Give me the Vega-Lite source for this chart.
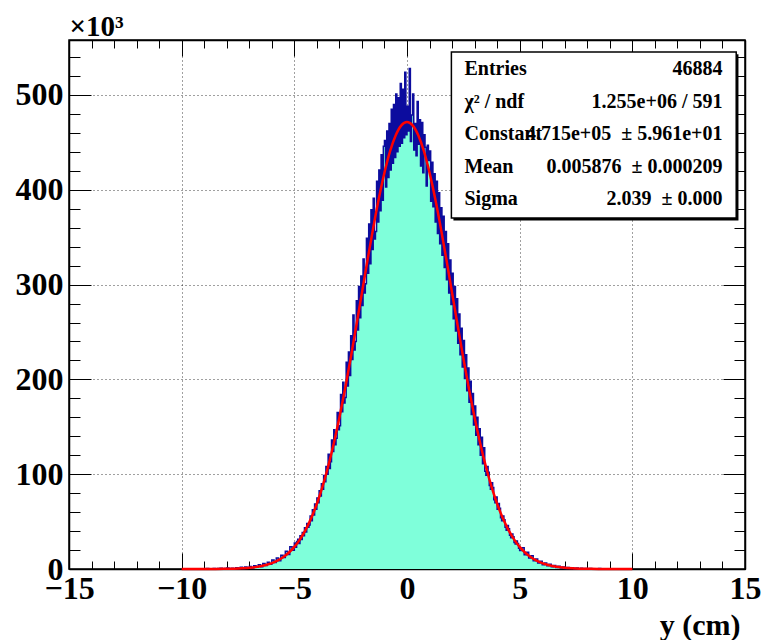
{
  "$schema": "https://vega.github.io/schema/vega-lite/v6.json",
  "width": 676,
  "height": 529,
  "autosize": "none",
  "padding": {"left": 69, "top": 40, "right": 25, "bottom": 71},
  "background": "white",
  "config": {
    "view": {"stroke": "black", "strokeWidth": 1.5},
    "axis": {
      "labelFont": "Liberation Serif",
      "labelFontWeight": "bold",
      "labelFontSize": 32,
      "labelColor": "black",
      "titleFont": "Liberation Serif",
      "titleFontWeight": "bold",
      "titleColor": "black",
      "tickColor": "black",
      "tickWidth": 1,
      "domainColor": "black",
      "domainWidth": 1.5,
      "gridColor": "black",
      "gridDash": [1, 3],
      "gridWidth": 1,
      "gridOpacity": 0.75,
      "zindex": 1,
      "labelOverlap": false,
      "labelFlush": false,
      "labelBound": false
    }
  },
  "datasets": {
    "hist": [
      {"x": -9.0, "n": 0}, {"x": -8.9, "n": 0.5}, {"x": -8.8, "n": 0}, {"x": -8.7, "n": 0}, {"x": -8.6, "n": 0.6},
      {"x": -8.5, "n": 0}, {"x": -8.4, "n": 0.4}, {"x": -8.3, "n": 0.9}, {"x": -8.2, "n": 0}, {"x": -8.1, "n": 0.5},
      {"x": -8.0, "n": 1.0}, {"x": -7.9, "n": 0.3}, {"x": -7.8, "n": 0.9}, {"x": -7.7, "n": 0.2}, {"x": -7.6, "n": 1.4},
      {"x": -7.5, "n": 0.5}, {"x": -7.4, "n": 1.8}, {"x": -7.3, "n": 0.6}, {"x": -7.2, "n": 2.2}, {"x": -7.1, "n": 1.0},
      {"x": -7.0, "n": 2.6}, {"x": -6.9, "n": 1.1}, {"x": -6.8, "n": 3.3}, {"x": -6.7, "n": 2.0}, {"x": -6.6, "n": 4.6},
      {"x": -6.5, "n": 2.4}, {"x": -6.4, "n": 5.9}, {"x": -6.3, "n": 3.6}, {"x": -6.2, "n": 7.2}, {"x": -6.1, "n": 5.1},
      {"x": -6.0, "n": 9.4}, {"x": -5.9, "n": 6.8}, {"x": -5.8, "n": 11.5}, {"x": -5.7, "n": 8.7}, {"x": -5.6, "n": 14.6},
      {"x": -5.5, "n": 12.0}, {"x": -5.4, "n": 18.7}, {"x": -5.3, "n": 15.2}, {"x": -5.2, "n": 23.4}, {"x": -5.1, "n": 19.8},
      {"x": -5.00, "n": 27.5}, {"x": -4.95, "n": 23.0}, {"x": -4.90, "n": 29.0}, {"x": -4.85, "n": 31.5}, {"x": -4.80, "n": 27.0},
      {"x": -4.75, "n": 35.0}, {"x": -4.70, "n": 31.0}, {"x": -4.65, "n": 38.5}, {"x": -4.60, "n": 35.0}, {"x": -4.55, "n": 43.5},
      {"x": -4.50, "n": 39.0}, {"x": -4.45, "n": 48.0}, {"x": -4.40, "n": 44.0}, {"x": -4.35, "n": 46.5}, {"x": -4.30, "n": 56.0},
      {"x": -4.25, "n": 51.0}, {"x": -4.20, "n": 62.5}, {"x": -4.15, "n": 57.0}, {"x": -4.10, "n": 68.5}, {"x": -4.05, "n": 63.0},
      {"x": -4.00, "n": 75.0}, {"x": -3.95, "n": 70.0}, {"x": -3.90, "n": 82.5}, {"x": -3.85, "n": 77.0}, {"x": -3.80, "n": 90.0},
      {"x": -3.75, "n": 84.0}, {"x": -3.70, "n": 98.5}, {"x": -3.65, "n": 92.0}, {"x": -3.60, "n": 108.0}, {"x": -3.55, "n": 100.0},
      {"x": -3.50, "n": 121.0}, {"x": -3.45, "n": 106.0}, {"x": -3.40, "n": 113.0}, {"x": -3.35, "n": 136.0}, {"x": -3.30, "n": 124.0},
      {"x": -3.25, "n": 147.0}, {"x": -3.20, "n": 131.0}, {"x": -3.15, "n": 138.0}, {"x": -3.10, "n": 165.0}, {"x": -3.05, "n": 147.0},
      {"x": -3.00, "n": 151.0}, {"x": -2.95, "n": 184.0}, {"x": -2.90, "n": 166.0}, {"x": -2.85, "n": 197.0}, {"x": -2.80, "n": 175.0},
      {"x": -2.75, "n": 181.0}, {"x": -2.70, "n": 218.0}, {"x": -2.65, "n": 193.0}, {"x": -2.60, "n": 229.0}, {"x": -2.55, "n": 204.0},
      {"x": -2.50, "n": 246.0}, {"x": -2.45, "n": 221.0}, {"x": -2.40, "n": 268.0}, {"x": -2.35, "n": 231.0}, {"x": -2.30, "n": 240.0},
      {"x": -2.25, "n": 283.0}, {"x": -2.20, "n": 252.0}, {"x": -2.15, "n": 298.0}, {"x": -2.10, "n": 265.0}, {"x": -2.05, "n": 309.0},
      {"x": -2.00, "n": 278.0}, {"x": -1.95, "n": 327.0}, {"x": -1.90, "n": 291.0}, {"x": -1.85, "n": 301.0}, {"x": -1.80, "n": 349.0},
      {"x": -1.75, "n": 312.0}, {"x": -1.70, "n": 364.0}, {"x": -1.65, "n": 322.0}, {"x": -1.60, "n": 379.0}, {"x": -1.55, "n": 337.0},
      {"x": -1.50, "n": 391.0}, {"x": -1.45, "n": 348.0}, {"x": -1.40, "n": 356.0}, {"x": -1.35, "n": 409.0}, {"x": -1.30, "n": 366.0},
      {"x": -1.25, "n": 421.0}, {"x": -1.20, "n": 378.0}, {"x": -1.15, "n": 437.0}, {"x": -1.10, "n": 389.0}, {"x": -1.05, "n": 446.0},
      {"x": -1.00, "n": 452.0}, {"x": -0.95, "n": 403.0}, {"x": -0.90, "n": 462.0}, {"x": -0.85, "n": 413.0}, {"x": -0.80, "n": 470.0},
      {"x": -0.75, "n": 421.0}, {"x": -0.70, "n": 485.0}, {"x": -0.65, "n": 428.0}, {"x": -0.60, "n": 490.0}, {"x": -0.55, "n": 434.0},
      {"x": -0.50, "n": 501.0}, {"x": -0.45, "n": 440.0}, {"x": -0.40, "n": 497.0}, {"x": -0.35, "n": 446.0}, {"x": -0.30, "n": 512.0},
      {"x": -0.25, "n": 449.0}, {"x": -0.20, "n": 506.0}, {"x": -0.15, "n": 455.0}, {"x": -0.10, "n": 524.0}, {"x": -0.05, "n": 458.0},
      {"x": 0.00, "n": 488.0}, {"x": 0.05, "n": 462.0}, {"x": 0.10, "n": 528.0}, {"x": 0.15, "n": 451.0}, {"x": 0.20, "n": 479.0},
      {"x": 0.25, "n": 501.0}, {"x": 0.30, "n": 442.0}, {"x": 0.35, "n": 470.0}, {"x": 0.40, "n": 436.0}, {"x": 0.45, "n": 493.0},
      {"x": 0.50, "n": 448.0}, {"x": 0.55, "n": 474.0}, {"x": 0.60, "n": 425.0}, {"x": 0.65, "n": 471.0}, {"x": 0.70, "n": 418.0},
      {"x": 0.75, "n": 458.0}, {"x": 0.80, "n": 445.0}, {"x": 0.85, "n": 404.0}, {"x": 0.90, "n": 447.0}, {"x": 0.95, "n": 431.0},
      {"x": 1.00, "n": 441.0}, {"x": 1.05, "n": 388.0}, {"x": 1.10, "n": 429.0}, {"x": 1.15, "n": 382.0}, {"x": 1.20, "n": 417.0},
      {"x": 1.25, "n": 366.0}, {"x": 1.30, "n": 409.0}, {"x": 1.35, "n": 354.0}, {"x": 1.40, "n": 397.0}, {"x": 1.45, "n": 343.0},
      {"x": 1.50, "n": 381.0}, {"x": 1.55, "n": 331.0}, {"x": 1.60, "n": 372.0}, {"x": 1.65, "n": 318.0}, {"x": 1.70, "n": 356.0},
      {"x": 1.75, "n": 305.0}, {"x": 1.80, "n": 343.0}, {"x": 1.85, "n": 291.0}, {"x": 1.90, "n": 326.0}, {"x": 1.95, "n": 279.0},
      {"x": 2.00, "n": 312.0}, {"x": 2.05, "n": 264.0}, {"x": 2.10, "n": 298.0}, {"x": 2.15, "n": 251.0}, {"x": 2.20, "n": 285.0},
      {"x": 2.25, "n": 238.0}, {"x": 2.30, "n": 269.0}, {"x": 2.35, "n": 226.0}, {"x": 2.40, "n": 254.0}, {"x": 2.45, "n": 213.0},
      {"x": 2.50, "n": 241.0}, {"x": 2.55, "n": 201.0}, {"x": 2.60, "n": 226.0}, {"x": 2.65, "n": 188.0}, {"x": 2.70, "n": 212.0},
      {"x": 2.75, "n": 176.0}, {"x": 2.80, "n": 198.0}, {"x": 2.85, "n": 163.0}, {"x": 2.90, "n": 185.0}, {"x": 2.95, "n": 152.0},
      {"x": 3.00, "n": 172.0}, {"x": 3.05, "n": 141.0}, {"x": 3.10, "n": 160.0}, {"x": 3.15, "n": 131.0}, {"x": 3.20, "n": 148.0},
      {"x": 3.25, "n": 120.0}, {"x": 3.30, "n": 139.0}, {"x": 3.35, "n": 111.0}, {"x": 3.40, "n": 128.0}, {"x": 3.45, "n": 103.0},
      {"x": 3.50, "n": 99.0}, {"x": 3.55, "n": 108.0}, {"x": 3.60, "n": 102.0}, {"x": 3.65, "n": 88.0}, {"x": 3.70, "n": 84.0},
      {"x": 3.75, "n": 91.0}, {"x": 3.80, "n": 86.0}, {"x": 3.85, "n": 73.0}, {"x": 3.90, "n": 70.0}, {"x": 3.95, "n": 76.0},
      {"x": 4.00, "n": 63.0}, {"x": 4.05, "n": 69.0}, {"x": 4.10, "n": 64.0}, {"x": 4.15, "n": 54.0}, {"x": 4.20, "n": 51.0},
      {"x": 4.25, "n": 56.0}, {"x": 4.30, "n": 52.0}, {"x": 4.35, "n": 44.0}, {"x": 4.40, "n": 41.0}, {"x": 4.45, "n": 46.0},
      {"x": 4.50, "n": 42.5}, {"x": 4.55, "n": 35.5}, {"x": 4.60, "n": 33.0}, {"x": 4.65, "n": 37.0}, {"x": 4.70, "n": 34.0},
      {"x": 4.75, "n": 28.0}, {"x": 4.80, "n": 26.5}, {"x": 4.85, "n": 29.5}, {"x": 4.90, "n": 27.0}, {"x": 4.95, "n": 22.0},
      {"x": 5.0, "n": 19.5}, {"x": 5.1, "n": 22.5}, {"x": 5.2, "n": 15.0}, {"x": 5.3, "n": 17.8}, {"x": 5.4, "n": 11.6},
      {"x": 5.5, "n": 13.9}, {"x": 5.6, "n": 8.6}, {"x": 5.7, "n": 10.6}, {"x": 5.8, "n": 6.3}, {"x": 5.9, "n": 8.2},
      {"x": 6.0, "n": 4.6}, {"x": 6.1, "n": 6.3}, {"x": 6.2, "n": 3.4}, {"x": 6.3, "n": 4.9}, {"x": 6.4, "n": 2.3},
      {"x": 6.5, "n": 3.8}, {"x": 6.6, "n": 1.6}, {"x": 6.7, "n": 3.0}, {"x": 6.8, "n": 1.0}, {"x": 6.9, "n": 2.2},
      {"x": 7.0, "n": 0.6}, {"x": 7.1, "n": 1.7}, {"x": 7.2, "n": 0.4}, {"x": 7.3, "n": 1.3}, {"x": 7.4, "n": 0.3},
      {"x": 7.5, "n": 1.0}, {"x": 7.6, "n": 0.2}, {"x": 7.7, "n": 0.8}, {"x": 7.8, "n": 0}, {"x": 7.9, "n": 0.6},
      {"x": 8.0, "n": 0}, {"x": 8.1, "n": 0.4}, {"x": 8.2, "n": 0}, {"x": 8.3, "n": 0.3}, {"x": 8.4, "n": 0},
      {"x": 8.5, "n": 0.5}, {"x": 8.6, "n": 0}, {"x": 8.7, "n": 0}, {"x": 8.8, "n": 0.2}, {"x": 8.9, "n": 0},
      {"x": 9.0, "n": 0}
    ],
    "fit": [
      {"x": -10, "f": 0.003}, {"x": -9.5, "f": 0.009}, {"x": -9, "f": 0.028}, {"x": -8.5, "f": 0.079}, {"x": -8, "f": 0.21},
      {"x": -7.5, "f": 0.54}, {"x": -7, "f": 1.30}, {"x": -6.5, "f": 2.93}, {"x": -6, "f": 6.21}, {"x": -5.75, "f": 8.84},
      {"x": -5.5, "f": 12.4}, {"x": -5.25, "f": 17.1}, {"x": -5, "f": 23.3}, {"x": -4.75, "f": 31.3}, {"x": -4.5, "f": 41.3},
      {"x": -4.25, "f": 53.7}, {"x": -4, "f": 68.8}, {"x": -3.75, "f": 86.9}, {"x": -3.5, "f": 108.1}, {"x": -3.25, "f": 132.4},
      {"x": -3, "f": 159.7}, {"x": -2.75, "f": 189.9}, {"x": -2.5, "f": 222.4}, {"x": -2.25, "f": 256.5}, {"x": -2, "f": 291.4},
      {"x": -1.75, "f": 326.2}, {"x": -1.5, "f": 359.7}, {"x": -1.25, "f": 390.7}, {"x": -1, "f": 418.1}, {"x": -0.75, "f": 440.7},
      {"x": -0.5, "f": 457.5}, {"x": -0.25, "f": 468.0}, {"x": 0, "f": 471.5}, {"x": 0.25, "f": 468.0}, {"x": 0.5, "f": 457.5},
      {"x": 0.75, "f": 440.7}, {"x": 1, "f": 418.1}, {"x": 1.25, "f": 390.7}, {"x": 1.5, "f": 359.7}, {"x": 1.75, "f": 326.2},
      {"x": 2, "f": 291.4}, {"x": 2.25, "f": 256.5}, {"x": 2.5, "f": 222.4}, {"x": 2.75, "f": 189.9}, {"x": 3, "f": 159.7},
      {"x": 3.25, "f": 132.4}, {"x": 3.5, "f": 108.1}, {"x": 3.75, "f": 86.9}, {"x": 4, "f": 68.8}, {"x": 4.25, "f": 53.7},
      {"x": 4.5, "f": 41.3}, {"x": 4.75, "f": 31.3}, {"x": 5, "f": 23.3}, {"x": 5.25, "f": 17.1}, {"x": 5.5, "f": 12.4},
      {"x": 5.75, "f": 8.84}, {"x": 6, "f": 6.21}, {"x": 6.5, "f": 2.93}, {"x": 7, "f": 1.30}, {"x": 7.5, "f": 0.54},
      {"x": 8, "f": 0.21}, {"x": 8.5, "f": 0.079}, {"x": 9, "f": 0.028}, {"x": 9.5, "f": 0.009}, {"x": 10, "f": 0.003}
    ]
  },
  "resolve": {"axis": {"x": "independent", "y": "independent"}},
  "layer": [
    {
      "data": {"name": "hist"},
      "mark": {"type": "area", "interpolate": "step-after", "color": "#7fffda", "opacity": 1},
      "encoding": {
        "x": {"field": "x", "type": "quantitative",
          "scale": {"domain": [-15, 15], "nice": false, "zero": false},
          "axis": {"orient": "bottom", "values": [-15, -10, -5, 0, 5, 10, 15], "format": "d",
            "tickSize": -16, "labelPadding": 20, "labelBaseline": "top", "grid": true, "domain": true,
            "title": "y (cm)", "titleFontSize": 30, "titleAlign": "right", "titleBaseline": "alphabetic",
            "titleX": 671, "titleY": 65}},
        "y": {"field": "n", "type": "quantitative",
          "scale": {"domain": [0, 558], "nice": false, "zero": true},
          "axis": {"orient": "left", "values": [0, 100, 200, 300, 400, 500], "format": "d",
            "tickSize": -22, "labelPadding": 28, "grid": true, "domain": true,
            "title": "×10³", "titleFontSize": 29, "titleAngle": 0, "titleAlign": "left",
            "titleBaseline": "alphabetic", "titleX": 0, "titleY": -5}}
      }
    },
    {
      "data": {"name": "hist"},
      "mark": {"type": "line", "interpolate": "step-after", "color": "#0c0c9e", "strokeWidth": 1.5},
      "encoding": {
        "x": {"field": "x", "type": "quantitative",
          "scale": {"domain": [-15, 15], "nice": false, "zero": false},
          "axis": {"orient": "bottom", "values": [-15,-14,-13,-12,-11,-10,-9,-8,-7,-6,-5,-4,-3,-2,-1,0,1,2,3,4,5,6,7,8,9,10,11,12,13,14,15],
            "tickSize": -8, "labels": false, "grid": false, "domain": false, "title": null}},
        "y": {"field": "n", "type": "quantitative",
          "scale": {"domain": [0, 558], "nice": false},
          "axis": {"orient": "left", "values": [0,20,40,60,80,100,120,140,160,180,200,220,240,260,280,300,320,340,360,380,400,420,440,460,480,500,520,540],
            "tickSize": -11, "labels": false, "grid": false, "domain": false, "title": null}}
      }
    },
    {
      "data": {"name": "fit"},
      "mark": {"type": "line", "interpolate": "monotone", "color": "#ff0000", "strokeWidth": 2.5},
      "encoding": {
        "x": {"field": "x", "type": "quantitative",
          "scale": {"domain": [-15, 15], "nice": false, "zero": false},
          "axis": {"orient": "top", "values": [-15, -10, -5, 0, 5, 10, 15],
            "tickSize": -16, "labels": false, "grid": false, "domain": true, "title": null}},
        "y": {"field": "f", "type": "quantitative",
          "scale": {"domain": [0, 558], "nice": false},
          "axis": {"orient": "right", "values": [0, 100, 200, 300, 400, 500],
            "tickSize": -22, "labels": false, "grid": false, "domain": true, "title": null}}
      }
    },
    {
      "data": {"values": [{}]},
      "mark": {"type": "rect", "color": "black"},
      "encoding": {
        "x": {"datum": 2.06, "type": "quantitative",
          "scale": {"domain": [-15, 15], "nice": false, "zero": false},
          "axis": {"orient": "top", "values": [-15,-14,-13,-12,-11,-10,-9,-8,-7,-6,-5,-4,-3,-2,-1,0,1,2,3,4,5,6,7,8,9,10,11,12,13,14,15],
            "tickSize": -8, "labels": false, "grid": false, "domain": false, "title": null}},
        "x2": {"datum": 14.71},
        "y": {"datum": 543.0, "type": "quantitative",
          "scale": {"domain": [0, 558], "nice": false},
          "axis": {"orient": "right", "values": [0,20,40,60,80,100,120,140,160,180,200,220,240,260,280,300,320,340,360,380,400,420,440,460,480,500,520,540],
            "tickSize": -11, "labels": false, "grid": false, "domain": false, "title": null}},
        "y2": {"datum": 367.5}
      }
    },
    {
      "data": {"values": [{}]},
      "mark": {"type": "rect", "fill": "white", "stroke": "black", "strokeWidth": 1.5},
      "encoding": {
        "x": {"datum": 1.97, "type": "quantitative", "axis": null},
        "x2": {"datum": 14.61},
        "y": {"datum": 545.4, "type": "quantitative", "axis": null},
        "y2": {"datum": 370.3}
      }
    },
    {
      "data": {"values": [{}]},
      "mark": {"type": "text", "font": "Liberation Serif", "fontWeight": "bold", "fontSize": 20,
        "align": "left", "baseline": "alphabetic", "lineHeight": 32.5, "color": "black",
        "text": ["Entries", "χ² / ndf", "Constant", "Mean", "Sigma"]},
      "encoding": {
        "x": {"datum": 2.55, "type": "quantitative", "axis": null},
        "y": {"datum": 521, "type": "quantitative", "axis": null}
      }
    },
    {
      "data": {"values": [{}]},
      "mark": {"type": "text", "font": "Liberation Serif", "fontWeight": "bold", "fontSize": 20,
        "align": "right", "baseline": "alphabetic", "lineHeight": 32.5, "color": "black",
        "text": ["46884", "1.255e+06 / 591", "4.715e+05\u00a0 ± 5.961e+01", "0.005876\u00a0 ± 0.000209", "2.039\u00a0 ± 0.000"]},
      "encoding": {
        "x": {"datum": 14.0, "type": "quantitative", "axis": null},
        "y": {"datum": 521, "type": "quantitative", "axis": null}
      }
    }
  ]
}
